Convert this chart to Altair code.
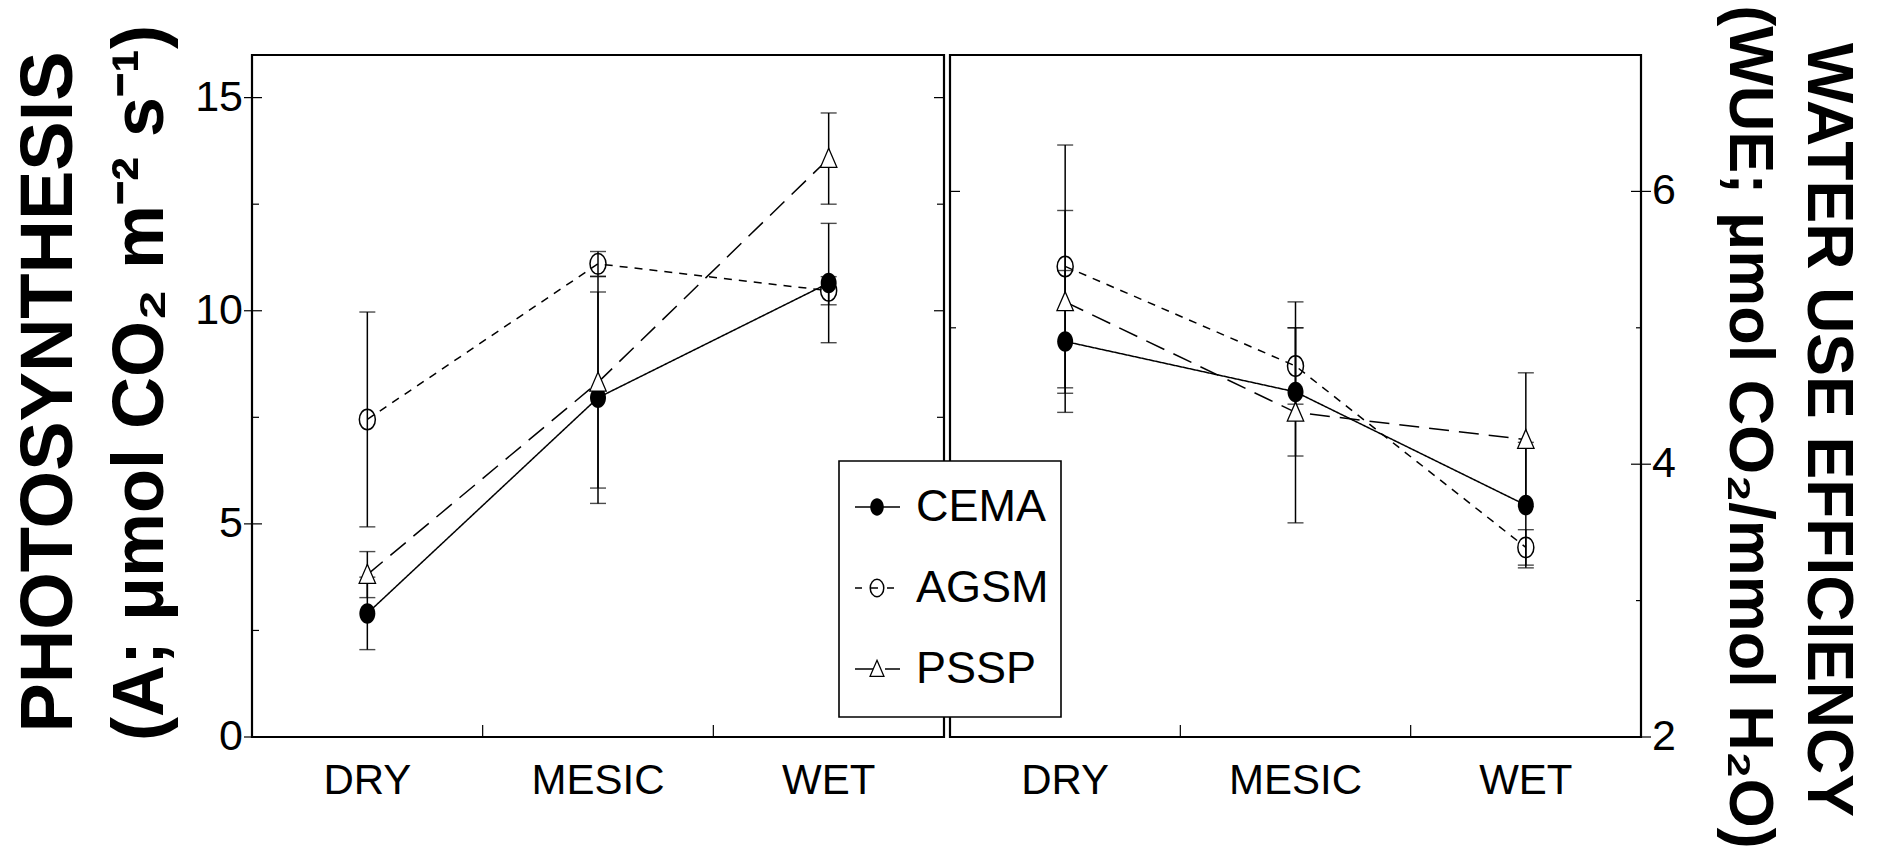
import altair as alt
import pandas as pd

# ---------------- data ----------------
conditions = ["DRY", "MESIC", "WET"]
species = ["CEMA", "AGSM", "PSSP"]

photo_mean = {"CEMA": [2.90, 7.96, 10.65],
              "AGSM": [7.45, 11.10, 10.47],
              "PSSP": [3.81, 8.32, 13.57]}
photo_se = {"CEMA": [0.85, 2.48, 1.40],
            "AGSM": [2.52, 0.29, 0.33],
            "PSSP": [0.54, 2.48, 1.07]}

wue_mean = {"CEMA": [4.90, 4.53, 3.70],
            "AGSM": [5.45, 4.72, 3.39],
            "PSSP": [5.19, 4.38, 4.18]}
wue_se = {"CEMA": [0.52, 0.47, 0.46],
          "AGSM": [0.89, 0.28, 0.13],
          "PSSP": [0.67, 0.81, 0.49]}

photo_major = [0, 5, 10, 15]
photo_minor = [2.5, 7.5, 12.5]
wue_major = [2, 4, 6]
wue_minor = [3, 5]
inner_ticks = ["MESIC", "WET"]

# ---------------- layout / style ----------------
W, H = 1389, 682
LEFT_END, RIGHT_START = 692, 698
REG = "Liberation Sans, Arial, sans-serif"

ELLIPSE = "M -0.78 0 A 0.78 1 0 1 0 0.78 0 A 0.78 1 0 1 0 -0.78 0 Z"
TRI = "M 0 -1 L 0.8 0.85 L -0.8 0.85 Z"
STYLE = {
    "CEMA": dict(dash=[1, 0], point=dict(shape=ELLIPSE, filled=True, color="black", opacity=1)),
    "AGSM": dict(dash=[8, 7], point=dict(shape=ELLIPSE, filled=False, color="black", strokeWidth=1.5, opacity=1)),
    "PSSP": dict(dash=[20, 10], point=dict(shape=TRI, filled=True, fill="white", stroke="black", strokeWidth=1.3, opacity=1)),
}

one = alt.Data(values=[{}])


def frame(mean, se):
    rows = []
    for s in species:
        for c, m, e in zip(conditions, mean[s], se[s]):
            rows.append({"species": s, "cond": c, "mean": m, "lo": m - e, "hi": m + e})
    return pd.DataFrame(rows)


def panel(df, xrange, ydomain, major, minor, left_ticks, right_ticks, label_x, label_align):
    xs = alt.Scale(type="band", domain=conditions, range=xrange, paddingInner=0, paddingOuter=0)
    ys = alt.Scale(domain=ydomain, nice=False, zero=False)
    X = alt.X("cond:N", scale=xs, bandPosition=0.5, axis=None)
    layers = []
    x0, x1 = xrange
    # frame
    layers.append(alt.Chart(one).mark_rect(fillOpacity=0, stroke="black", strokeWidth=2.2).encode(
        x=alt.value(x0), x2=alt.value(x1), y=alt.value(0), y2=alt.value(H)))
    # y ticks
    for vals, (a, b) in [(major, left_ticks[0]), (minor, left_ticks[1]),
                         (major, right_ticks[0]), (minor, right_ticks[1])]:
        layers.append(alt.Chart(pd.DataFrame({"v": vals})).mark_rule(color="black", strokeWidth=1.2).encode(
            y=alt.Y("v:Q", scale=ys, axis=None), x=alt.value(a), x2=alt.value(b)))
    # y labels
    layers.append(alt.Chart(pd.DataFrame({"v": major})).mark_text(
        align=label_align, baseline="middle", font=REG, fontSize=43, color="black").encode(
        y=alt.Y("v:Q", scale=ys, axis=None), x=alt.value(label_x), text=alt.Text("v:Q", format="d")))
    # bottom ticks at category boundaries
    layers.append(alt.Chart(pd.DataFrame({"cond": inner_ticks})).mark_rule(color="black", strokeWidth=1.2).encode(
        x=alt.X("cond:N", scale=xs, bandPosition=0, axis=None), y=alt.value(H - 12), y2=alt.value(H)))
    # x labels
    layers.append(alt.Chart(pd.DataFrame({"cond": conditions})).mark_text(
        align="center", baseline="alphabetic", font=REG, fontSize=42, color="black").encode(
        x=X, y=alt.value(739), text="cond:N"))
    # lines
    for s in species:
        d = df[df.species == s]
        layers.append(alt.Chart(d).mark_line(color="black", strokeWidth=1.5, strokeDash=STYLE[s]["dash"]).encode(
            x=X, y=alt.Y("mean:Q", scale=ys, axis=None)))
    # error bars
    for s in species:
        d = df[df.species == s]
        layers.append(alt.Chart(d).mark_rule(color="black", strokeWidth=1.5).encode(
            x=X, y=alt.Y("lo:Q", scale=ys, axis=None), y2="hi:Q"))
        for f in ["lo", "hi"]:
            layers.append(alt.Chart(d).mark_tick(orient="horizontal", size=16, thickness=1.4, color="black").encode(
                x=X, y=alt.Y(f + ":Q", scale=ys, axis=None)))
    # markers
    for s in species:
        d = df[df.species == s]
        layers.append(alt.Chart(d).mark_point(size=420, **STYLE[s]["point"]).encode(
            x=X, y=alt.Y("mean:Q", scale=ys, axis=None)))
    return alt.layer(*layers)


left = panel(frame(photo_mean, photo_se), [0, LEFT_END], [0, 16], photo_major, photo_minor,
             left_ticks=[(-8, 10), (0, 7)], right_ticks=[(LEFT_END - 10, LEFT_END), (LEFT_END - 7, LEFT_END)],
             label_x=-9, label_align="right")
right = panel(frame(wue_mean, wue_se), [RIGHT_START, W], [2, 7], wue_major, wue_minor,
              left_ticks=[(RIGHT_START, RIGHT_START + 10), (RIGHT_START, RIGHT_START + 6)],
              right_ticks=[(W - 10, W + 10), (W - 5, W)],
              label_x=W + 11, label_align="left")

# titles
titles = []
for txt, x, y, ang, size in [
    ("PHOTOSYNTHESIS", -180, 337, 270, 74),
    ("(A; μmol CO₂ m⁻² s⁻¹)", -89, 328, 270, 72),
    ("WATER USE EFFICIENCY", 1556, 375, 90, 64),
    ("(WUE; μmol CO₂/mmol H₂O)", 1478, 372, 90, 63),
]:
    titles.append(alt.Chart(one).mark_text(angle=ang, align="center", baseline="alphabetic", font=REG,
                                           fontWeight="bold", fontSize=size, color="black").encode(
        x=alt.value(x), y=alt.value(y), text=alt.value(txt)))

# legend
leg = [alt.Chart(one).mark_rect(fill="white", stroke="black", strokeWidth=1.6).encode(
    x=alt.value(587), x2=alt.value(809), y=alt.value(406), y2=alt.value(662))]
for i, s in enumerate(species):
    ry = 452 + 81 * i
    leg.append(alt.Chart(one).mark_rule(color="black", strokeWidth=1.5, strokeDash=STYLE[s]["dash"] if s != "AGSM" else [7, 9]).encode(
        x=alt.value(603), x2=alt.value(648), y=alt.value(ry)))
    leg.append(alt.Chart(one).mark_point(size=300, **STYLE[s]["point"]).encode(
        x=alt.value(625), y=alt.value(ry)))
    leg.append(alt.Chart(one).mark_text(align="left", baseline="middle", font=REG, fontSize=45, color="black").encode(
        x=alt.value(664), y=alt.value(ry), text=alt.value(s)))

chart = alt.layer(left, right, *titles, *leg).resolve_scale(x="independent", y="independent").properties(
    width=W, height=H,
    autosize=alt.AutoSizeParams(type="none"),
    padding={"left": 252, "top": 55, "right": 238, "bottom": 115},
    background="white",
).configure_view(stroke="transparent")

chart.save("out.html", embed_options={"renderer": "svg", "actions": False})
